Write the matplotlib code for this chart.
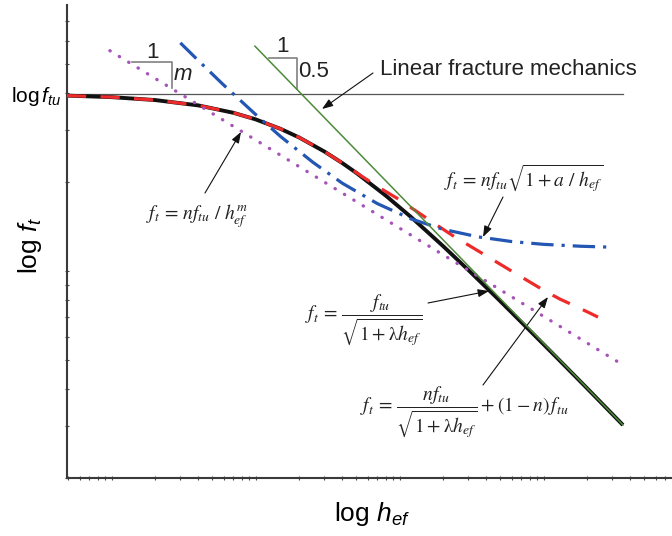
import matplotlib
matplotlib.use('Agg')
import matplotlib.pyplot as plt

plt.rcParams['font.family'] = ['Liberation Sans', 'DejaVu Sans']
plt.rcParams['mathtext.fontset'] = 'custom'
plt.rcParams['mathtext.rm'] = 'Liberation Sans'
plt.rcParams['mathtext.it'] = 'Liberation Sans:italic'

# values (arbitrary log units)
ftu = 39.6
x_range = [0.49, 7780]
y_range = [2.0, 79.2]

black_x = [0.49, 1, 2, 4, 7, 10, 15, 20, 30, 40, 50, 80, 120, 200, 300, 500, 800, 1200, 2000, 3550]
black_y = [39.14, 38.68, 37.82, 36.27, 34.25, 32.54, 30.18, 28.28, 25.34, 23.16, 21.46, 17.99, 15.22,
           12.15, 10.08, 7.91, 6.30, 5.17, 4.02, 3.02]

red_x = [0.49, 1, 2, 4, 7, 10, 15, 20, 30, 40, 55.6, 73, 100.5, 124, 150, 190, 242, 308, 391, 497,
         632, 803, 1021, 1298, 1650, 2097, 2384]
red_y = [39.14, 38.68, 37.82, 36.27, 34.25, 32.54, 30.18, 28.28, 25.34, 23.16, 20.78, 19.07, 17.38,
         16.20, 15.22, 14.08, 13.03, 12.15, 11.33, 10.56, 9.84, 9.18, 8.56, 8.04, 7.62, 7.21, 6.99]

blue_x = [3, 4, 6, 10, 15, 25, 40, 70, 120, 200, 350, 600, 1000, 1800, 2980]
blue_y = [59.0, 51.4, 42.5, 33.8, 28.4, 23.3, 19.8, 16.9, 15.0, 13.84, 13.05, 12.58, 12.31, 12.13, 12.04]

purple_x = [0.973, 3571]
purple_y = [55.5, 4.81]

green_x = [9.89, 3554]
green_y = [57.5, 3.02]

line_x = [0.49, 3571]

# slope triangles: (x_left, x_right, y_top, y_bottom)
tri_m = [1.377, 2.61, 50.7, 41.4]
tri_half = [12.43, 19.27, 52.6, 41.2]

W, H = 672, 536
fig = plt.figure(figsize=(W / 100, H / 100), dpi=100)
ax = fig.add_axes([67 / W, 58 / H, 605 / W, 473 / H])
ax.set_xscale('log')
ax.set_yscale('log')
ax.set_xlim(x_range)
ax.set_ylim(y_range)

ax.plot(line_x, [ftu, ftu], color='#555555', lw=0.9, zorder=1)
ax.plot(black_x, black_y, color='#111111', lw=2.8, solid_capstyle='butt', zorder=2)
ax.plot(green_x, green_y, color='#4d8a3a', lw=1.1, zorder=5)
ax.plot(red_x, red_y, color='#ee2b2b', lw=2.3, linestyle=(0, (6, 4.5)), zorder=3)
ax.plot(purple_x, purple_y, color='#a654b8', lw=2.4, linestyle=(0, (0.1, 3.2)),
        dash_capstyle='round', zorder=4)
ax.plot(blue_x, blue_y, color='#2456b4', lw=2.3, linestyle=(0, (7, 2.5, 1, 2.5)), zorder=4)

for t in (tri_m, tri_half):
    ax.plot([t[0], t[1], t[1]], [t[2], t[2], t[3]], color='#808080', lw=1.2, zorder=2)

for s in ['top', 'right']:
    ax.spines[s].set_visible(False)
for s in ['left', 'bottom']:
    ax.spines[s].set_color('#3a3a3a')
    ax.spines[s].set_linewidth(1.5)
ax.tick_params(which='both', direction='inout', length=3, width=0.8, color='#444444',
               labelleft=False, labelbottom=False)


def fp(x, y):
    return (x / W, 1 - y / H)


def arrow(start, tip):
    ax.annotate('', xy=(tip[0], H - tip[1]), xycoords='figure pixels',
                xytext=(start[0], H - start[1]), textcoords='figure pixels',
                arrowprops=dict(arrowstyle='-|>,head_length=0.55,head_width=0.2', color='#111111',
                                lw=0.8, mutation_scale=12, shrinkA=0, shrinkB=0))


fig.text(*fp(30, 245), r'$\mathrm{log}\ f_t$', fontsize=19, rotation=90, ha='center', va='center')
fig.text(*fp(372, 514), r'$\mathrm{log}\ h_{ef}$', fontsize=19, ha='center', va='center')
fig.text(*fp(61, 97), r'$\mathrm{log}\,f_{tu}$', fontsize=15, ha='right', va='center')

fig.text(*fp(380, 69), 'Linear fracture mechanics', fontsize=16, ha='left', va='center', color='#222222')
arrow((373, 73), (322, 109))

fig.text(*fp(152, 53), '1', fontsize=16, ha='center', va='center', color='#222222')
fig.text(*fp(173, 75), r'$m$', fontsize=16, ha='left', va='center', color='#222222')
fig.text(*fp(283, 47), '1', fontsize=16, ha='center', va='center', color='#222222')
fig.text(*fp(298, 72), '0.5', fontsize=16, ha='left', va='center', color='#222222')

fkw = dict(fontsize=14, ha='center', va='center', color='#222222', math_fontfamily='stix')
fig.text(*fp(197, 216), r'$f_t\,=\,nf_{tu}\ /\ h_{ef}^{m}$', **fkw)
arrow((205, 193), (241, 132))

fig.text(*fp(524, 178), r'$f_t\,=\,nf_{tu}\sqrt{1+a\ /\ h_{ef}}$', **fkw)
arrow((503, 197), (483, 237))

fig.text(*fp(364, 320), r'$f_t\,=\,\dfrac{f_{tu}}{\sqrt{1+\mathrm{\lambda} h_{ef}}}$', **fkw)
arrow((428, 303), (489, 291))

fig.text(*fp(464, 412),
         r'$f_t\,=\,\dfrac{nf_{tu}}{\sqrt{1+\mathrm{\lambda} h_{ef}}} + (1-n)\,f_{tu}$', **fkw)
arrow((483, 385), (548, 297))

fig.savefig('out.png', dpi=100)
